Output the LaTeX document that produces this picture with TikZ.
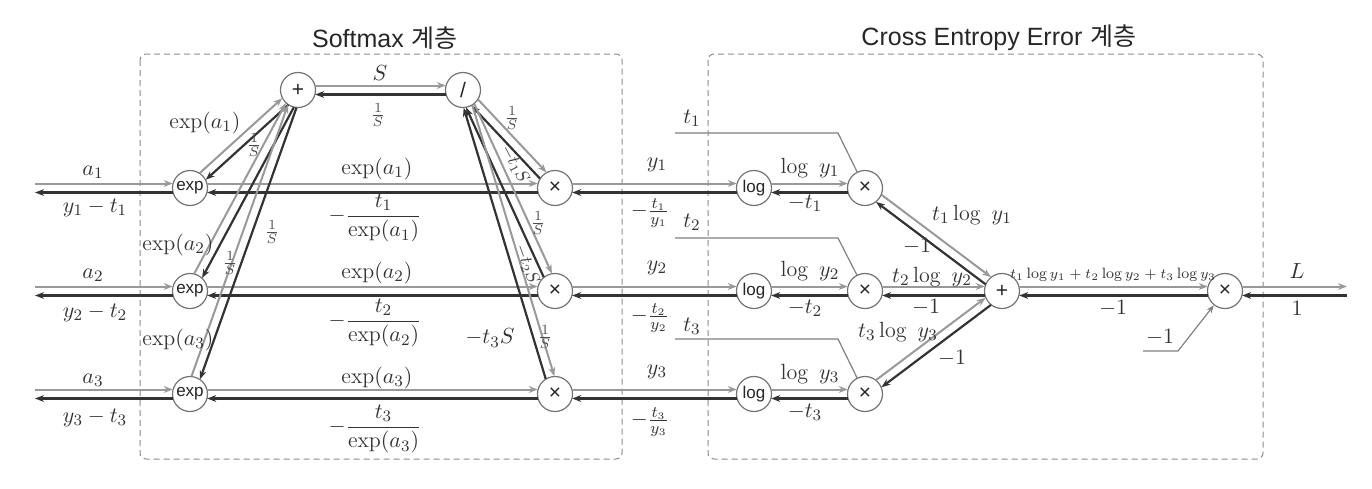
\documentclass[tikz,border=0pt]{standalone}
\usepackage{amsmath}
\usepackage{fontspec}
\newfontfamily\krfont{Noto Sans CJK KR}
\newfontfamily\opfont{Liberation Sans}
\usetikzlibrary{calc,arrows.meta}
\tikzset{
 op/.style={circle, draw=black!55, line width=0.6pt, fill=white, minimum size=17.5pt, inner sep=0pt, font=\opfont\fontsize{8.5}{9}\selectfont, text=black!85},
 opsym/.style={op, font=\opfont\fontsize{10.5}{11}\selectfont},
 fwd/.style={draw=black!40, line width=1pt, -{Stealth[length=4.5pt,width=3.4pt]}},
 bwd/.style={draw=black!80, line width=1.1pt, -{Stealth[length=4.5pt,width=3.4pt]}},
 lab/.style={font=\fontsize{11}{13}\selectfont, text=black!80, inner sep=0pt},
 rlab/.style={font=\fontsize{9}{10}\selectfont, text=black!75, inner sep=0pt},
 slab/.style={font=\fontsize{9.5}{10}\selectfont, text=black!70, inner sep=0pt},
 tinylab/.style={font=\fontsize{7.5}{8}\selectfont, text=black!80, inner sep=0pt},
 layerbox/.style={draw=black!45, densely dashed, line width=0.5pt, rounded corners=3pt},
 title/.style={font=\fontsize{12.5}{14}\selectfont, text=black!85},
 tline/.style={draw=black!50, line width=0.6pt},
}
\def\eoff{2.25pt}
\def\rs{8.6pt}
\newcommand\fbedge[4]{%
 \draw[fwd, shorten <=#3, shorten >=#4] ($(#1)!\eoff!90:(#2)$) -- ($(#2)!\eoff!-90:(#1)$);
 \draw[bwd, shorten <=#4, shorten >=#3] ($(#2)!\eoff!90:(#1)$) -- ($(#1)!\eoff!-90:(#2)$);}
\begin{document}
\begin{tikzpicture}[x=0.5pt,y=-0.5pt]
\useasboundingbox (0,0) rectangle (1372,488);
% layer boxes and titles
\draw[layerbox] (140,54) rectangle (622,459);
\draw[layerbox] (708,54) rectangle (1263,459);
\node[title] (tsm) at (385,38) {{\opfont Softmax} {\krfont 계층}};
\node[title] (tce) at (999,38) {{\opfont Cross Entropy Error} {\krfont 계층}};
% nodes
\node[op] (e1) at (190,188) {exp};
\node[op] (e2) at (190,291) {exp};
\node[op] (e3) at (190,394) {exp};
\node[opsym] (pl) at (298,90) {+};
\node[opsym] (dv) at (463,90) {/};
\node[opsym] (m1) at (555,188) {×};
\node[opsym] (m2) at (555,291) {×};
\node[opsym] (m3) at (555,394) {×};
\node[op] (l1) at (754,188) {log};
\node[op] (l2) at (754,291) {log};
\node[op] (l3) at (754,394) {log};
\node[opsym] (c1) at (865,188) {×};
\node[opsym] (c2) at (865,291) {×};
\node[opsym] (c3) at (865,394) {×};
\node[opsym] (pc) at (1002,291) {+};
\node[opsym] (mf) at (1225,291) {×};
\coordinate (in1) at (35,188);
\coordinate (in2) at (35,291);
\coordinate (in3) at (35,394);
\coordinate (out) at (1347,291);
% edges
\fbedge{in1}{e1}{0pt}{\rs}
\fbedge{in2}{e2}{0pt}{\rs}
\fbedge{in3}{e3}{0pt}{\rs}
\fbedge{e1}{m1}{\rs}{\rs}
\fbedge{e2}{m2}{\rs}{\rs}
\fbedge{e3}{m3}{\rs}{\rs}
\fbedge{e1}{pl}{\rs}{\rs}
\fbedge{e2}{pl}{\rs}{\rs}
\fbedge{e3}{pl}{\rs}{\rs}
\fbedge{pl}{dv}{\rs}{\rs}
\fbedge{dv}{m1}{\rs}{\rs}
\fbedge{dv}{m2}{\rs}{\rs}
\fbedge{dv}{m3}{\rs}{\rs}
\fbedge{m1}{l1}{\rs}{\rs}
\fbedge{m2}{l2}{\rs}{\rs}
\fbedge{m3}{l3}{\rs}{\rs}
\fbedge{l1}{c1}{\rs}{\rs}
\fbedge{l2}{c2}{\rs}{\rs}
\fbedge{l3}{c3}{\rs}{\rs}
\fbedge{c1}{pc}{\rs}{\rs}
\fbedge{c2}{pc}{\rs}{\rs}
\fbedge{c3}{pc}{\rs}{\rs}
\fbedge{pc}{mf}{\rs}{\rs}
\fbedge{mf}{out}{\rs}{0pt}
% t inputs
\coordinate (t1s) at (675,133); \coordinate (t1c) at (838,133);
\coordinate (t2s) at (675,238); \coordinate (t2c) at (838,238);
\coordinate (t3s) at (675,339); \coordinate (t3c) at (838,339);
\draw[tline] (t1s) -- (t1c) -- (c1);
\draw[tline] (t2s) -- (t2c) -- (c2);
\draw[tline] (t3s) -- (t3c) -- (c3);
\coordinate (ms) at (1143,351); \coordinate (mc) at (1178,351);
\draw[tline, -{Stealth[length=4pt,width=3pt]}] (ms) -- (mc) -- (mf);
% softmax labels
\node[lab] (la1) at (93,172) {$a_1$};
\node[lab] (lb1) at (95,208) {$y_1-t_1$};
\node[lab] (la2) at (93,275) {$a_2$};
\node[lab] (lb2) at (95,313) {$y_2-t_2$};
\node[lab] (la3) at (93,380) {$a_3$};
\node[lab] (lb3) at (95,418) {$y_3-t_3$};
\node[lab] (ld1) at (205,123) {$\exp(a_1)$};
\node[slab] (ls1) at (254,145) {$\frac{1}{S}$};
\node[slab] (ls3) at (272,232) {$\frac{1}{S}$};
\node[lab] (ld2) at (178,245) {$\exp(a_2)$};
\node[slab] (ls2) at (230,263) {$\frac{1}{S}$};
\node[lab] (ld3) at (178,340) {$\exp(a_3)$};
\node[lab] (lS) at (380,73) {$S$};
\node[slab] (lSi) at (378,115) {$\frac{1}{S}$};
\node[lab] (lh1) at (377,169) {$\exp(a_1)$};
\node[lab] (lf1) at (375,218) {$-\dfrac{t_1}{\exp(a_1)}$};
\node[lab] (lh2) at (377,273) {$\exp(a_2)$};
\node[lab] (lf2) at (375,323) {$-\dfrac{t_2}{\exp(a_2)}$};
\node[lab] (lh3) at (377,378) {$\exp(a_3)$};
\node[lab] (lf3) at (375,429) {$-\dfrac{t_3}{\exp(a_3)}$};
\node[slab] (lm1) at (512,118) {$\frac{1}{S}$};
\node[rlab, rotate=-62] (ln1) at (515,164) {$-t_1S$};
\node[slab] (lm2) at (538,223) {$\frac{1}{S}$};
\node[rlab, rotate=-70] (ln2) at (527,264) {$-t_2S$};
\node[lab] (ln3) at (490,338) {$-t_3S$};
\node[slab] (lm3) at (545,337) {$\frac{1}{S}$};
% between layers
\node[lab] (ly1) at (657,165) {$y_1$};
\node[lab] (lq1) at (650,213) {$-\frac{t_1}{y_1}$};
\node[lab] (ly2) at (657,268) {$y_2$};
\node[lab] (lq2) at (650,318) {$-\frac{t_2}{y_2}$};
\node[lab] (ly3) at (657,372) {$y_3$};
\node[lab] (lq3) at (650,422) {$-\frac{t_3}{y_3}$};
\node[lab] (lt1) at (692,118) {$t_1$};
\node[lab] (lt2) at (692,222) {$t_2$};
\node[lab] (lt3) at (692,326) {$t_3$};
% cross entropy labels
\node[lab] (lg1) at (810,168) {$\log\ y_1$};
\node[lab] (lr1) at (805,203) {$-t_1$};
\node[lab] (lg2) at (810,271) {$\log\ y_2$};
\node[lab] (lr2) at (805,308) {$-t_2$};
\node[lab] (lg3) at (810,374) {$\log\ y_3$};
\node[lab] (lr3) at (805,412) {$-t_3$};
\node[lab] (lp1) at (972,215) {$t_1\log\ y_1$};
\node[lab] (lo1) at (917,246) {$-1$};
\node[lab] (lp2) at (932,277) {$t_2\log\ y_2$};
\node[lab] (lo2) at (926,307) {$-1$};
\node[lab] (lp3) at (898,332) {$t_3\log\ y_3$};
\node[lab] (lo3) at (952,358) {$-1$};
\node[tinylab] (lsum) at (1113,275) {$t_1\log y_1+t_2\log y_2+t_3\log y_3$};
\node[lab] (lo4) at (1113,308) {$-1$};
\node[lab] (lL) at (1297,271) {$L$};
\node[lab] (l1b) at (1297,308) {$1$};
\node[lab] (lmi) at (1160,337) {$-1$};
\end{tikzpicture}
\end{document}
